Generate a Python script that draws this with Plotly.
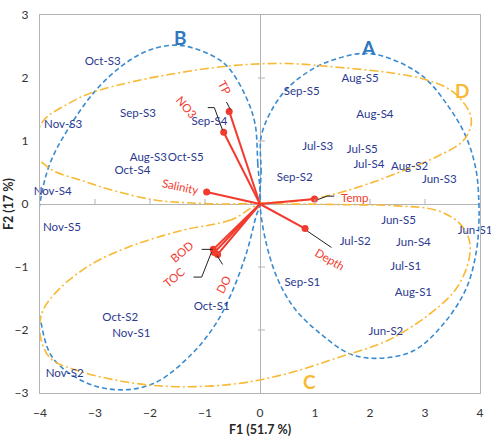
import plotly.graph_objects as go

# ---- sample scores (F1, F2) ----
sample_names = ["Oct-S3", "Sep-S3", "Nov-S3", "Sep-S4", "Aug-S3", "Oct-S5", "Oct-S4", "Nov-S4",
                "Aug-S5", "Sep-S5", "Aug-S4", "Jul-S3", "Jul-S5", "Jul-S4", "Aug-S2", "Jun-S3", "Sep-S2",
                "Jun-S5", "Jul-S2", "Jun-S4", "Jun-S1", "Jul-S1", "Aug-S1", "Sep-S1", "Jun-S2",
                "Nov-S5", "Oct-S2", "Nov-S1", "Nov-S2", "Oct-S1"]
sample_f1 = [-2.86, -2.22, -3.58, -0.92, -2.03, -1.35, -2.32, -3.77,
             1.82, 0.76, 2.09, 1.05, 1.86, 1.98, 2.72, 3.26, 0.63,
             2.52, 1.73, 2.79, 3.91, 2.65, 2.79, 0.77, 2.29,
             -3.60, -2.54, -2.34, -3.55, -0.88]
sample_f2 = [2.25, 1.42, 1.25, 1.30, 0.73, 0.73, 0.52, 0.19,
             1.98, 1.78, 1.41, 0.90, 0.85, 0.61, 0.59, 0.38, 0.41,
             -0.27, -0.61, -0.62, -0.43, -1.00, -1.42, -1.25, -2.03,
             -0.375, -1.81, -2.06, -2.70, -1.64]

# ---- variable loadings ----
var_names = ["TP", "NO3", "Salinity", "Temp", "Depth", "BOD", "TOC", "DO"]
var_f1 = [-0.56, -0.66, -0.97, 0.99, 0.82, -0.85, -0.83, -0.77]
var_f2 = [1.47, 1.14, 0.19, 0.08, -0.39, -0.72, -0.77, -0.80]
# label placement (F1, F2) and rotation
var_label_f1 = [-0.64, -1.33, -1.44, 1.71, 1.28, -1.42, -1.57, -0.67]
var_label_f2 = [1.85, 1.53, 0.28, 0.11, -0.88, -0.75, -1.16, -1.27]
var_label_angle = [62, 50, 12, 0, 30, -40, -40, -62]

# leader (callout) lines
leader_lines = [
    [(-0.61, 1.62), (-0.54, 1.50)],
    [(-0.95, 1.53), (-0.83, 1.53), (-0.68, 1.17)],
    [(1.05, 0.07), (1.22, 0.125), (1.35, 0.125)],
    [(0.86, -0.43), (1.30, -0.69)],
    [(-1.06, -0.72), (-0.86, -0.72)],
    [(-1.21, -1.16), (-1.06, -1.16), (-0.88, -0.76)],
    [(-0.78, -0.82), (-0.68, -0.96)],
]

# ---- group outlines ----
groupA_f1 = [0, 0.02, 0.02, 0.2, 0.5, 0.99, 1.41, 1.89, 2.36, 2.97, 3.44, 3.75, 3.93, 3.98, 3.98, 3.93,
             3.75, 3.33, 2.79, 2.13, 1.64, 1.1, 0.63, 0.32, 0.11, 0]
groupA_f2 = [0, 0.5, 1.06, 1.47, 1.84, 2.16, 2.31, 2.39, 2.31, 2.02, 1.53, 1.06, 0.53, 0.02, -0.3, -0.77,
             -1.34, -1.91, -2.33, -2.45, -2.38, -2.06, -1.66, -1.19, -0.61, 0]
groupB_f1 = [0, -0.04, -0.09, -0.25, -0.58, -0.88, -1.48, -2.02, -2.50, -3.01, -3.51, -3.82, -4.0, -4.13,
             -4.0, -3.77, -3.15, -2.50, -1.89, -1.24, -0.81, -0.52, -0.24, -0.07, 0]
groupB_f2 = [0, 0.64, 1.27, 1.69, 2.17, 2.36, 2.52, 2.44, 2.20, 1.78, 1.16, 0.64, 0.02, -1.03,
             -1.81, -2.44, -2.84, -2.95, -2.83, -2.38, -1.91, -1.42, -0.76, -0.19, 0]
groupC_f1 = [0, -0.52, -1.42, -2.32, -3.05, -3.64, -3.95, -4.0, -3.82, -3.33, -2.32, -1.42, -0.4, 0.5, 1.41,
             2.31, 3.08, 3.57, 3.8, 3.8, 3.62, 3.21, 2.5, 1.5, 0.5, 0]
groupC_f2 = [0, -0.25, -0.42, -0.66, -0.95, -1.34, -1.7, -2.06, -2.44, -2.64, -2.84, -2.9, -2.85, -2.69, -2.44,
             -2.17, -1.75, -1.34, -0.88, -0.56, -0.3, -0.1, -0.03, -0.01, 0.0, 0]
groupD_f1 = [0.09, 0.81, 1.41, 2.0, 2.61, 3.21, 3.69, 3.84, 3.8, 3.51, 3.03, 2.31, 1.41, 0.5, -0.45, -1.42,
             -2.32, -3.05, -3.51, -3.95, -4.09, -3.82, -3.23, -2.61, -1.89, -1.35, -0.6, 0.09]
groupD_f2 = [0.02, 0.06, 0.17, 0.33, 0.53, 0.75, 1.0, 1.27, 1.47, 1.78, 1.97, 2.09, 2.17, 2.23, 2.2, 2.09,
             1.94, 1.77, 1.58, 1.31, 0.84, 0.56, 0.37, 0.2, 0.06, 0.02, 0.0, 0.02]
group_letters = ["A", "B", "C", "D"]
group_letter_f1 = [1.98, -1.44, 0.9, 3.68]
group_letter_f2 = [2.48, 2.64, -2.81, 1.80]

x_ticks = [-4, -3, -2, -1, 0, 1, 2, 3, 4]
y_ticks = [-3, -2, -1, 0, 1, 2, 3]

BLUE = "#3A8BD0"
BLUE_TXT = "#2F78BF"
ORANGE = "#F9B934"
RED = "#F23A2E"
NAVY = "#2B3990"
GRAY = "#B4B4B4"
FONT = "Lato"

fig = go.Figure()

blue_dash = "5px,3px"
orange_dash = "9px,3px,2px,3px"
for fx, fy, col, dash in [(groupA_f1, groupA_f2, BLUE, blue_dash),
                          (groupB_f1, groupB_f2, BLUE, blue_dash),
                          (groupC_f1, groupC_f2, ORANGE, orange_dash),
                          (groupD_f1, groupD_f2, ORANGE, orange_dash)]:
    fig.add_trace(go.Scatter(x=fx, y=fy, mode="lines",
                             line=dict(color=col, width=1.6, dash=dash, shape="spline", smoothing=1.0),
                             hoverinfo="skip", showlegend=False, cliponaxis=False))

# vectors
for vx, vy in zip(var_f1, var_f2):
    fig.add_trace(go.Scatter(x=[0, vx], y=[0, vy], mode="lines",
                             line=dict(color=RED, width=2), hoverinfo="skip", showlegend=False))
fig.add_trace(go.Scatter(x=var_f1, y=var_f2, mode="markers",
                         marker=dict(color=RED, size=7), hoverinfo="skip", showlegend=False))

# leader lines
for ln in leader_lines:
    fig.add_trace(go.Scatter(x=[p[0] for p in ln], y=[p[1] for p in ln], mode="lines",
                             line=dict(color="#222222", width=1), hoverinfo="skip", showlegend=False))

# samples
fig.add_trace(go.Scatter(x=sample_f1, y=sample_f2, mode="text", text=sample_names,
                         textfont=dict(family=FONT, size=11.5, color=NAVY),
                         textposition="middle center", cliponaxis=False,
                         hoverinfo="skip", showlegend=False))

# variable labels
for name, lx, ly, ang in zip(var_names, var_label_f1, var_label_f2, var_label_angle):
    fig.add_annotation(x=lx, y=ly, text=name, showarrow=False, textangle=ang,
                       font=dict(family=FONT, size=11.5, color=RED))

# group letters
for name, lx, ly in zip(group_letters, group_letter_f1, group_letter_f2):
    col = BLUE_TXT if name in ("A", "B") else ORANGE
    fig.add_annotation(x=lx, y=ly, text="<b>%s</b>" % name, showarrow=False,
                       font=dict(family=FONT, size=19, color=col))

# small tick marks on the zero lines
shapes = []
for t in x_ticks:
    if t in (-4, 0, 4):
        continue
    shapes.append(dict(type="line", xref="x", yref="y", x0=t, x1=t, ysizemode="pixel", yanchor=0,
                       y0=0, y1=5, line=dict(color=GRAY, width=1)))
for t in y_ticks:
    if t in (-3, 0, 3):
        continue
    shapes.append(dict(type="line", xref="x", yref="y", y0=t, y1=t, xsizemode="pixel", xanchor=0,
                       x0=-2, x1=5, line=dict(color=GRAY, width=1)))
fig.update_layout(shapes=shapes)

# axis titles
fig.add_annotation(xref="paper", yref="paper", x=0.5, y=0, yshift=-36, text="<b>F1 (51.7 %)</b>",
                   showarrow=False, font=dict(family=FONT, size=12.5, color="#262626"), yanchor="middle")
fig.add_annotation(xref="paper", yref="paper", x=0, y=0.5, xshift=-32, text="<b>F2 (17 %)</b>",
                   textangle=-90, showarrow=False, font=dict(family=FONT, size=12.5, color="#262626"),
                   xanchor="center")

axis_common = dict(showgrid=False, zeroline=True, zerolinecolor=GRAY, zerolinewidth=1.2,
                   showline=True, mirror=True, linecolor=GRAY, linewidth=1.2, ticks="",
                   tickfont=dict(family=FONT, size=12, color="#333333"))
fig.update_xaxes(range=[-4, 4], tickvals=x_ticks, ticklabelstandoff=8, **axis_common)
fig.update_yaxes(range=[-3, 3], tickvals=y_ticks, ticklabelstandoff=8, **axis_common)

fig.update_layout(width=491, height=438, margin=dict(l=40, r=7, t=9, b=45),
                  paper_bgcolor="white", plot_bgcolor="white", showlegend=False)

fig.write_html("out.html")
